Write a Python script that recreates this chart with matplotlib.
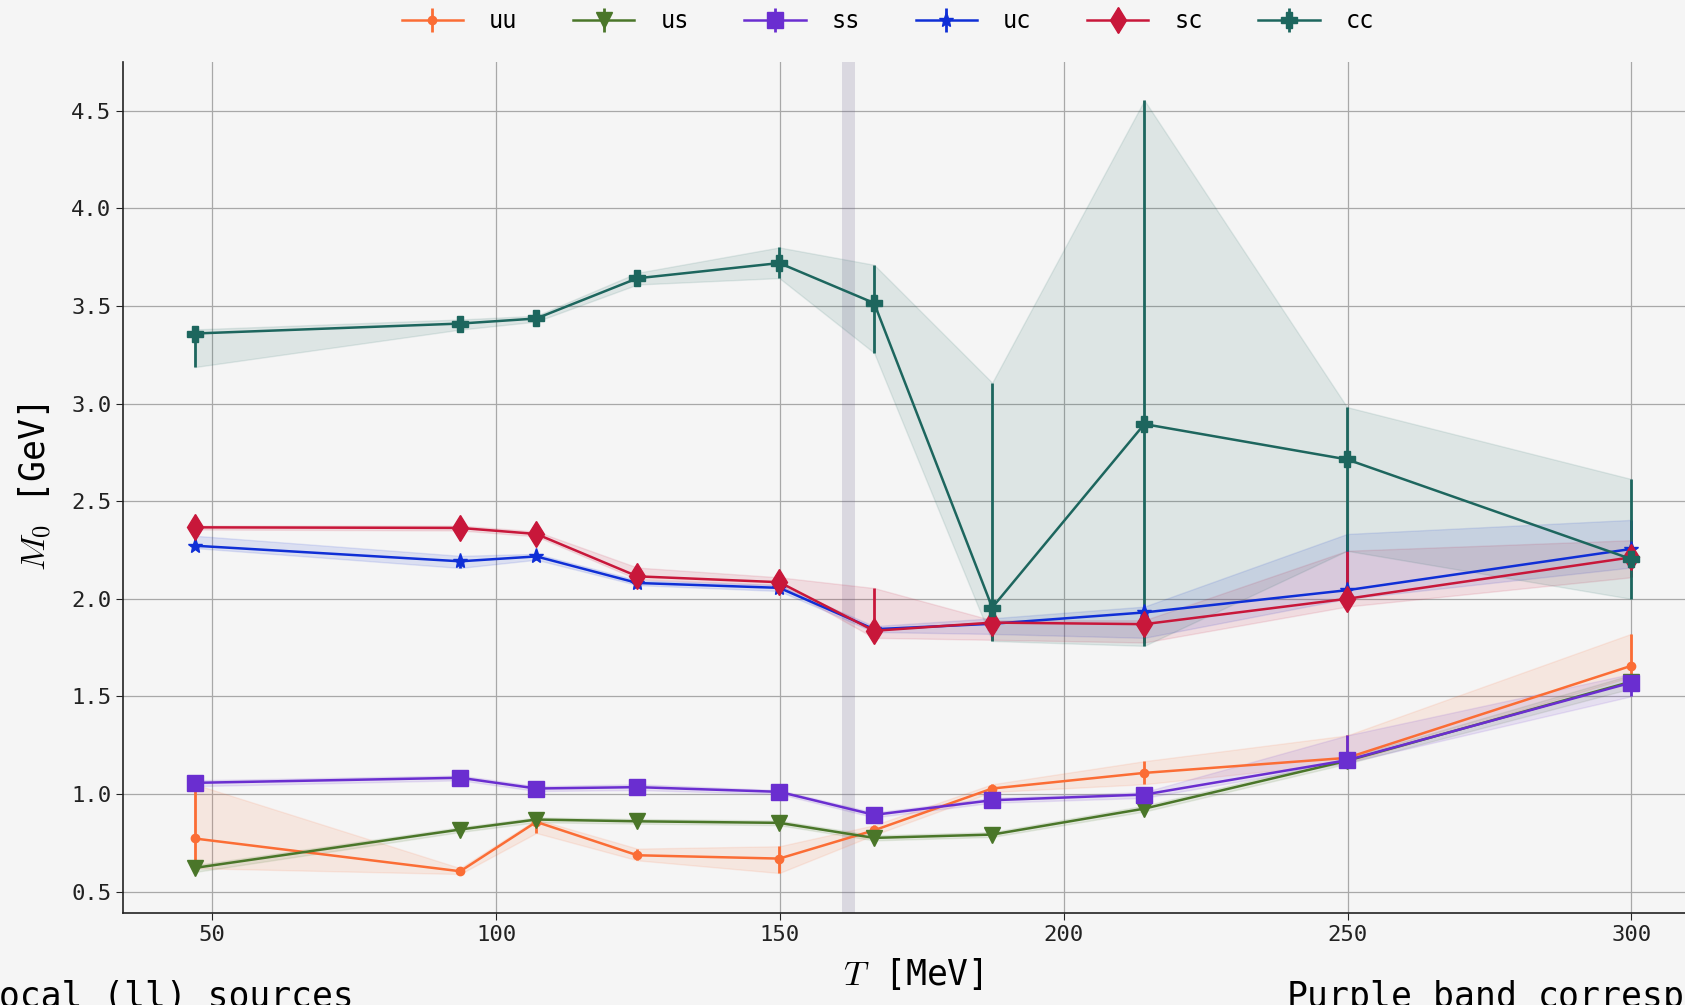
import numpy as np
import matplotlib
matplotlib.use("Agg")
import matplotlib.pyplot as plt

plt.rcParams['font.family'] = ['DejaVu Sans Mono']
plt.rcParams['mathtext.fontset'] = 'cm'

# temperatures (MeV)
T = [46.9, 93.7, 107.1, 124.9, 149.9, 166.6, 187.4, 214.2, 249.9, 299.9]

# M0 [GeV]: central value, lower edge, upper edge
uu = [0.772, 0.604, 0.857, 0.686, 0.669, 0.814, 1.028, 1.108, 1.185, 1.656]
uu_lo = [0.620, 0.590, 0.800, 0.660, 0.595, 0.790, 1.010, 1.050, 1.160, 1.600]
uu_hi = [1.050, 0.620, 0.870, 0.720, 0.732, 0.840, 1.050, 1.168, 1.300, 1.820]

us = [0.621, 0.818, 0.869, 0.860, 0.852, 0.775, 0.792, 0.925, 1.170, 1.575]
us_lo = [0.600, 0.805, 0.855, 0.848, 0.840, 0.762, 0.780, 0.910, 1.155, 1.540]
us_hi = [0.635, 0.830, 0.880, 0.872, 0.864, 0.788, 0.805, 0.940, 1.185, 1.610]

ss = [1.057, 1.083, 1.028, 1.035, 1.011, 0.893, 0.968, 0.997, 1.173, 1.570]
ss_lo = [1.040, 1.070, 1.015, 1.020, 1.000, 0.880, 0.955, 0.980, 1.160, 1.500]
ss_hi = [1.070, 1.095, 1.040, 1.050, 1.020, 0.905, 0.980, 1.010, 1.300, 1.615]

uc = [2.272, 2.192, 2.217, 2.081, 2.056, 1.844, 1.872, 1.930, 2.044, 2.255]
uc_lo = [2.260, 2.158, 2.200, 2.070, 2.040, 1.830, 1.820, 1.800, 2.000, 2.160]
uc_hi = [2.323, 2.220, 2.230, 2.095, 2.070, 1.860, 1.900, 1.960, 2.332, 2.404]

sc = [2.366, 2.363, 2.332, 2.115, 2.085, 1.836, 1.878, 1.870, 2.000, 2.212]
sc_lo = [2.355, 2.350, 2.320, 2.100, 2.070, 1.800, 1.790, 1.776, 1.960, 2.110]
sc_hi = [2.375, 2.375, 2.345, 2.160, 2.110, 2.055, 1.890, 1.890, 2.246, 2.300]

cc = [3.359, 3.410, 3.436, 3.642, 3.720, 3.515, 1.955, 2.895, 2.714, 2.204]
cc_lo = [3.187, 3.379, 3.420, 3.610, 3.643, 3.260, 1.784, 1.759, 2.246, 2.000]
cc_hi = [3.380, 3.431, 3.450, 3.670, 3.800, 3.711, 3.107, 4.554, 2.982, 2.614]

labels = ['uu', 'us', 'ss', 'uc', 'sc', 'cc']
colors = ['#fb6d35', '#4a7629', '#6a2ed0', '#0f2fd6', '#c8173a', '#1d665e']
markers = ['o', 'v', 's', '*', 'd', 'P']
msizes = [6, 11, 11, 11, 13, 11]
series = [(uu, uu_lo, uu_hi), (us, us_lo, us_hi), (ss, ss_lo, ss_hi),
          (uc, uc_lo, uc_hi), (sc, sc_lo, sc_hi), (cc, cc_lo, cc_hi)]

bg = '#f5f5f5'
fig = plt.figure(figsize=(16.85, 10.05), dpi=100, facecolor=bg)
ax = fig.add_axes([0.073, 0.0915, 0.9377, 0.8468], facecolor=bg)

# T_c band
ax.axvspan(161.0, 163.3, color='#6f6490', alpha=0.2, lw=0, zorder=1)

for lab, c, m, ms, (y, lo, hi) in zip(labels, colors, markers, msizes, series):
    y = np.array(y)
    lo = np.array(lo)
    hi = np.array(hi)
    ax.fill_between(T, lo, hi, color=c, alpha=0.11, lw=1, zorder=2)
    ax.errorbar(T, y, yerr=[y - lo, hi - y], color=c, marker=m, ms=ms,
                lw=1.8, elinewidth=2, capsize=0, label=lab, zorder=3)

ax.set_xlim(34.3, 312.6)
ax.set_ylim(0.39, 4.75)
ax.set_yticks([0.5, 1.0, 1.5, 2.0, 2.5, 3.0, 3.5, 4.0, 4.5])
ax.set_xticks([50, 100, 150, 200, 250, 300])
ax.yaxis.set_major_formatter(matplotlib.ticker.FormatStrFormatter('%.1f'))
ax.grid(True, color='#a8a8a8', lw=0.9)
ax.set_axisbelow(True)
for s in ['top', 'right']:
    ax.spines[s].set_visible(False)
for s in ['left', 'bottom']:
    ax.spines[s].set_color('#222222')
    ax.spines[s].set_linewidth(1.2)
ax.tick_params(labelsize=16, length=5, colors='#222222')

ax.set_xlabel('$T$ [MeV]', fontsize=25, labelpad=8)
ax.set_ylabel('$M_0$ [GeV]', fontsize=25, labelpad=12)

fig.legend(loc='upper center', bbox_to_anchor=(0.527, 1.012), ncol=6,
           frameon=False, fontsize=17, handlelength=2.6, handletextpad=1.1,
           columnspacing=2.35)

fig.text(-0.013, -0.002, 'Local (ll) sources', fontsize=25, ha='left', va='baseline')
fig.text(0.763, -0.002, 'Purple band corresponds to $T_c$', fontsize=25,
         ha='left', va='baseline')

fig.savefig('out.png', dpi=100, facecolor=bg)
